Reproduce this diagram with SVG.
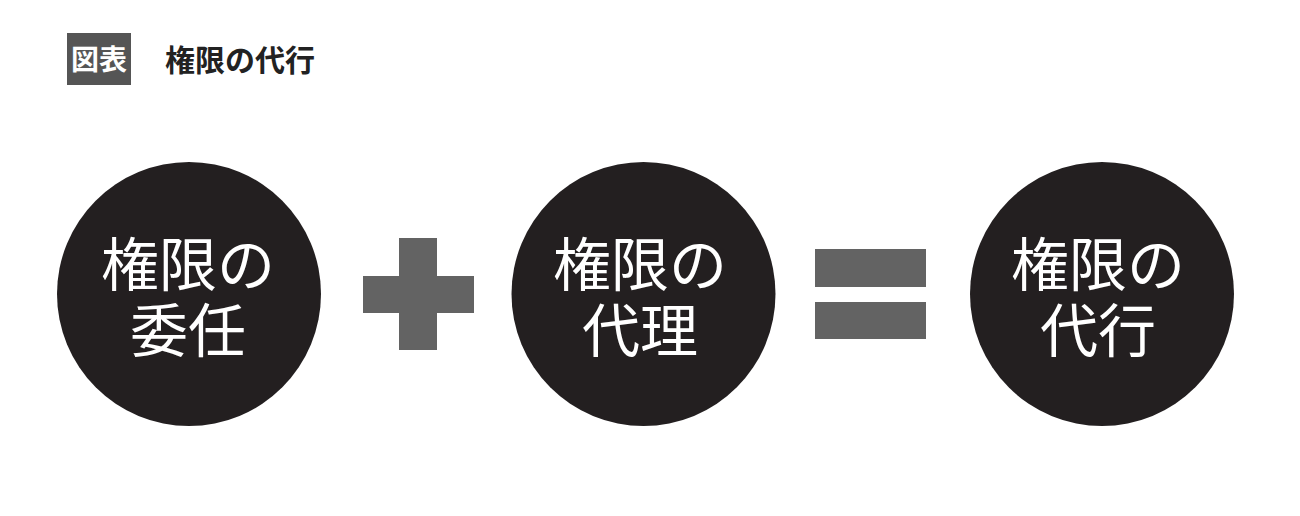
<svg xmlns="http://www.w3.org/2000/svg" width="1300" height="516" viewBox="0 0 1300 516">
<style>
.jp{font-family:"Noto Sans CJK JP","Noto Sans CJK SC",sans-serif;}
.circle{fill:#231f20;}
.label{fill:#ffffff;font-size:58px;font-weight:400;text-anchor:middle;}
.op{fill:#636363;}
</style>
<rect width="1300" height="516" fill="#ffffff"/>
<g id="title">
<rect x="67" y="33" width="64" height="52" fill="#555555"/>
<text class="jp" x="99" y="70" fill="#ffffff" font-size="28" font-weight="700" text-anchor="middle">図表</text>
<text class="jp" x="165" y="71" fill="#222222" font-size="30" font-weight="700">権限の代行</text>
</g>
<g id="node-delegation">
<circle class="circle" cx="189" cy="294" r="132"/>
<text class="jp label"><tspan x="188" y="286">権限の</tspan><tspan x="188" y="352">委任</tspan></text>
</g>
<g id="plus">
<rect class="op" x="399" y="238" width="38" height="112"/>
<rect class="op" x="363" y="276" width="111" height="37"/>
</g>
<g id="node-agency">
<circle class="circle" cx="643.5" cy="294" r="132"/>
<text class="jp label"><tspan x="640" y="286">権限の</tspan><tspan x="640" y="352">代理</tspan></text>
</g>
<g id="equals">
<rect class="op" x="815" y="249" width="111" height="38"/>
<rect class="op" x="815" y="302" width="111" height="37"/>
</g>
<g id="node-proxy">
<circle class="circle" cx="1102" cy="294" r="132"/>
<text class="jp label"><tspan x="1098" y="286">権限の</tspan><tspan x="1098" y="352">代行</tspan></text>
</g>
<g id="connectors"></g>
</svg>
